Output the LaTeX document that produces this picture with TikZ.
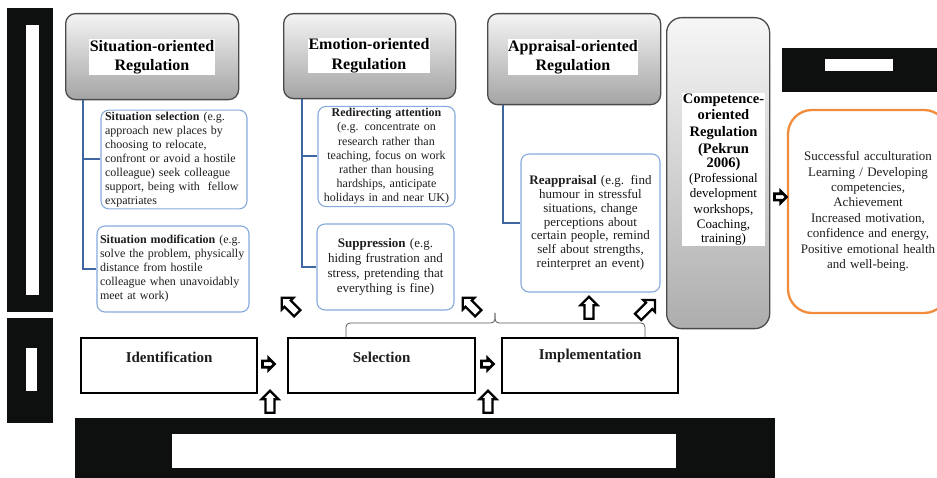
\documentclass[tikz,border=0pt]{standalone}
\usepackage{fontspec}
\setmainfont{Liberation Serif}
\usetikzlibrary{shapes.arrows,calc}
\definecolor{bluebd}{HTML}{86AADB}
\definecolor{blueln}{HTML}{3E66A2}
\definecolor{orangebd}{HTML}{F08C3C}
\definecolor{hdrbd}{HTML}{4A4A4A}
\definecolor{hdrtop}{HTML}{F4F4F4}
\definecolor{hdrbot}{HTML}{A4A4A4}
\definecolor{blk}{HTML}{0E0F0F}
\definecolor{txt}{HTML}{1E1E1E}
\begin{document}
\begin{tikzpicture}[x=1pt,y=-1pt,
 font=\fontsize{12}{14}\selectfont, text=txt,
 blackbox/.style={fill=blk, draw=none, inner sep=0pt, anchor=north west},
 whitebar/.style={fill=white, draw=none, inner sep=0pt, anchor=north west},
 hdr/.style={draw=hdrbd, line width=1.3pt, rounded corners=10pt, top color=hdrtop, bottom color=hdrbot, inner sep=0pt, anchor=north west},
 hdrtxt/.style={fill=white, inner sep=0.5pt, align=center, text=black, font=\fontsize{16}{19.5}\selectfont\bfseries},
 bbox/.style={draw=bluebd, line width=1.1pt, rounded corners=8pt, fill=white, inner ysep=2pt},
 bline/.style={draw=blueln, line width=2pt},
 procbox/.style={draw=black, line width=2.2pt, fill=white, inner sep=0pt, anchor=north west},
 proctxt/.style={font=\fontsize{15}{18}\selectfont\bfseries},
 openarr/.style={single arrow, draw=black, fill=white, line width=2.3pt, inner sep=3.3pt, minimum width=15pt, minimum height=22pt, single arrow head extend=4pt},
 fillarr/.style={single arrow, draw=black, fill=white, line width=2.7pt, inner sep=1.8pt, minimum width=9pt, minimum height=12pt, single arrow head extend=2.7pt},
 bracec/.style={draw=black!65, line width=0.8pt, rounded corners=4pt},
]
\clip (0,0) rectangle (937,478);
\fill[white] (0,0) rectangle (937,478);

% black masks
\node[blackbox, minimum width=46, minimum height=304] (lbar1) at (7,8) {};
\node[whitebar, minimum width=13, minimum height=270] (lbar1w) at (26,25) {};
\node[blackbox, minimum width=46, minimum height=105] (lbar2) at (7,318) {};
\node[whitebar, minimum width=11, minimum height=43] (lbar2w) at (26,348) {};
\node[blackbox, minimum width=700, minimum height=62] (bot) at (75,418) {};
\node[whitebar, minimum width=504, minimum height=34] (botw) at (172,434) {};
\node[blackbox, minimum width=160, minimum height=44] (rbox) at (782,48) {};
\node[whitebar, minimum width=68, minimum height=12] (rboxw) at (825,59) {};

% headers
\node[hdr, minimum width=173, minimum height=86] (sith) at (65,13) {};
\node[hdrtxt, minimum width=124] (sitt) at (152,57) {Situation-oriented\\Regulation};
\node[hdr, minimum width=172, minimum height=85] (emoh) at (283,13) {};
\node[hdrtxt, minimum width=120] (emot) at (369,55.5) {Emotion-oriented\\Regulation};
\node[hdr, minimum width=173, minimum height=91] (apph) at (487,13) {};
\node[hdrtxt, minimum width=130] (appt) at (573,57) {Appraisal-oriented\\Regulation};
\node[hdr, rounded corners=15pt, minimum width=103, minimum height=311, top color=hdrtop!80!white, bottom color=hdrbot!90!white] (comp) at (666,17) {};
\node[fill=white, inner sep=0pt, text width=83, align=center, text=black] (compt) at (723.5,169.5)
 {{\fontsize{14.5}{16.7}\selectfont\bfseries Competence-\\oriented\\Regulation\\(Pekrun\\2006)}\\
  {\fontsize{13}{15.4}\selectfont (Professional\\development\\workshops,\\Coaching,\\training)}};

% blue boxes
\node[bbox, minimum width=146, minimum height=95, inner xsep=4pt, text width=138, align=left] (ssel) at (174,159.5)
 {\textbf{Situation selection} (e.g.\\approach new places by\\choosing to relocate,\\confront or avoid a hostile\\colleague) seek colleague\\support, being with\ \ fellow\\expatriates};
\node[bbox, minimum width=152, minimum height=86, inner xsep=3pt, text width=146, align=left] (smod) at (173,269)
 {\textbf{Situation modification} (e.g.\\solve the problem, physically\\distance from hostile\\colleague when unavoidably\\meet at work)};
\node[bbox, minimum width=137, minimum height=97, inner xsep=2pt, text width=133, align=center, font=\fontsize{12}{14.2}\selectfont] (redir) at (386.5,156.5)
 {\textbf{Redirecting attention}\\(e.g. concentrate on\\research rather than\\teaching, focus on work\\rather than housing\\hardships, anticipate\\holidays in and near UK)};
\node[bbox, minimum width=137, minimum height=86, inner xsep=2pt, text width=133, align=center, font=\fontsize{13}{15}\selectfont] (supp) at (385.5,267)
 {\textbf{Suppression} (e.g.\\hiding frustration and\\stress, pretending that\\everything is fine)};
\node[bbox, minimum width=139, minimum height=138, inner xsep=2pt, text width=135, align=center, font=\fontsize{13}{13.8}\selectfont] (reap) at (590.5,223)
 {\textbf{Reappraisal} (e.g. find\\humour in stressful\\situations, change\\perceptions about\\certain people, remind\\self about strengths,\\reinterpret an event)};

% orange outcome box
\node[draw=orangebd, line width=2.3pt, rounded corners=24pt, fill=white, minimum width=160, minimum height=203, inner xsep=3pt, text width=154, align=center, font=\fontsize{13}{15.4}\selectfont] (outc) at (868,211.5)
 {Successful acculturation\\Learning / Developing\\competencies,\\Achievement\\Increased motivation,\\confidence and energy,\\Positive emotional health\\and well-being.};

% blue connectors
\draw[bline] ($(sith.south west)+(18,0)$) |- (ssel.west);
\draw[bline] ($(sith.south west)+(18,0)$) |- (smod.west);
\draw[bline] ($(emoh.south west)+(19,0)$) |- (redir.west);
\draw[bline] ($(emoh.south west)+(19,0)$) |- (supp.west);
\draw[bline] ($(apph.south west)+(16,0)$) |- (reap.west);

% process boxes
\node[procbox, minimum width=176, minimum height=55] (iden) at (80,337) {};
\node[procbox, minimum width=187, minimum height=55] (sel) at (287,337) {};
\node[procbox, minimum width=176, minimum height=55] (impl) at (501,337) {};
\node[proctxt] (identxt) at ($(iden.north)+(0,20)$) {Identification};
\node[proctxt] (seltxt) at ($(sel.north)+(0,20)$) {Selection};
\node[proctxt] (impltxt) at ($(impl.north)+(0,19)$) {Implementation};

% brace
\coordinate (brL) at ($(sel.north west)+(59,0)$);
\coordinate (brM) at (495,313);
\coordinate (brR) at ($(impl.north west)+(144,0)$);
\draw[bracec] (brL) |- ($(brM)+(0,10)$) -- (brM);
\draw[bracec] (brM) -- ($(brM)+(0,10)$) -| (brR);

% open block arrows
\node[openarr, rotate=135, minimum height=22pt, minimum width=15pt, inner sep=3.2pt] (oa1) at (291,307) {};
\node[openarr, rotate=135, minimum height=22pt, minimum width=15pt, inner sep=3.2pt] (oa2) at (472,307) {};
\node[openarr, rotate=90] (oa3) at (589,310) {};
\node[openarr, rotate=45, minimum height=24pt] (oa4) at (645,310) {};
\node[openarr, rotate=90] (oa5) at (270,404) {};
\node[openarr, rotate=90] (oa6) at (488,404) {};

% small filled arrows
\node[fillarr] (fa1) at (267,364) {};
\node[fillarr] (fa2) at (486,364) {};
\node[fillarr] (fa3) at (779,197) {};
\end{tikzpicture}
\end{document}
